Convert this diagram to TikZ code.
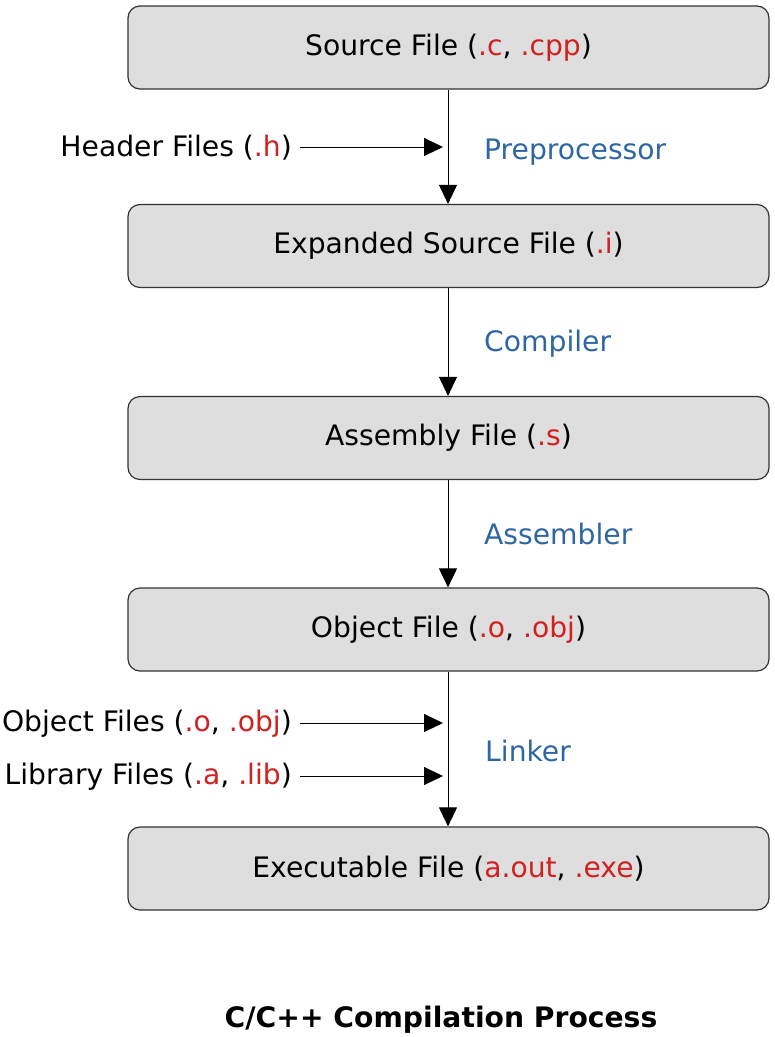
\documentclass[tikz,border=0pt]{standalone}
\usepackage{fontspec}
\setmainfont{DejaVu Sans}
\usetikzlibrary{arrows.meta}
\definecolor{ext}{HTML}{D02020}
\definecolor{stage}{HTML}{2E66A3}
\definecolor{boxfill}{HTML}{DEDEDE}
\definecolor{boxline}{HTML}{333333}
\newcommand{\ex}[1]{\textcolor{ext}{#1}}
\begin{document}
\begin{tikzpicture}[x=1pt,y=-1pt,
  filebox/.style={draw=boxline, line width=1.2pt, fill=boxfill, rounded corners=12pt,
    minimum width=641pt, minimum height=83pt, inner sep=0pt,
    font=\fontsize{28.2pt}{33pt}\selectfont},
  stagelbl/.style={anchor=west, inner sep=0pt, text=stage, font=\fontsize{28.2pt}{33pt}\selectfont},
  sidelbl/.style={anchor=east, inner sep=0pt, font=\fontsize{28.2pt}{33pt}\selectfont},
  flow/.style={line width=1pt, -{Triangle[length=19pt,width=18pt]}},
]
\useasboundingbox (0,0) rectangle (775,1037);
\node[filebox] (src) at (448.5,47.5) {Source File (\ex{.c}, \ex{.cpp})};
\node[filebox] (exp) at (448.5,246) {Expanded Source File (\ex{.i})};
\node[filebox] (asm) at (448.5,438) {Assembly File (\ex{.s})};
\node[filebox] (obj) at (448.5,629.5) {Object File (\ex{.o}, \ex{.obj})};
\node[filebox] (exe) at (448.5,868.5) {Executable File (\ex{a.out}, \ex{.exe})};

\draw[flow] ([xshift=-0.5pt]src.south) -- ([xshift=-0.5pt]exp.north);
\draw[flow] ([xshift=-0.5pt]exp.south) -- ([xshift=-0.5pt]asm.north);
\draw[flow] ([xshift=-0.5pt]asm.south) -- ([xshift=-0.5pt]obj.north);
\draw[flow] ([xshift=-0.5pt]obj.south) -- ([xshift=-0.5pt]exe.north);

\node[stagelbl] (pre) at (484,152.5) {Preprocessor};
\node[stagelbl] (cmp) at (484,343.5) {Compiler};
\node[stagelbl] (asb) at (484,533.5) {Assembler};
\node[stagelbl] (lnk) at (485,751) {Linker};

\node[sidelbl] (hdr) at (292,147.5) {Header Files (\ex{.h})};
\node[sidelbl] (objs) at (292,723.5) {Object Files (\ex{.o}, \ex{.obj})};
\node[sidelbl] (libs) at (292,776.5) {Library Files (\ex{.a}, \ex{.lib})};
\coordinate (hdrin) at (443,147);
\coordinate (objsin) at (443,723);
\coordinate (libsin) at (443,776);
\draw[flow, shorten <=8pt] (hdr.east |- hdrin) -- (hdrin);
\draw[flow, shorten <=8pt] (objs.east |- objsin) -- (objsin);
\draw[flow, shorten <=8pt] (libs.east |- libsin) -- (libsin);

\node[font=\fontsize{28.2pt}{33pt}\selectfont\bfseries] (title) at (441,1020) {C/C++ Compilation Process};
\end{tikzpicture}
\end{document}
